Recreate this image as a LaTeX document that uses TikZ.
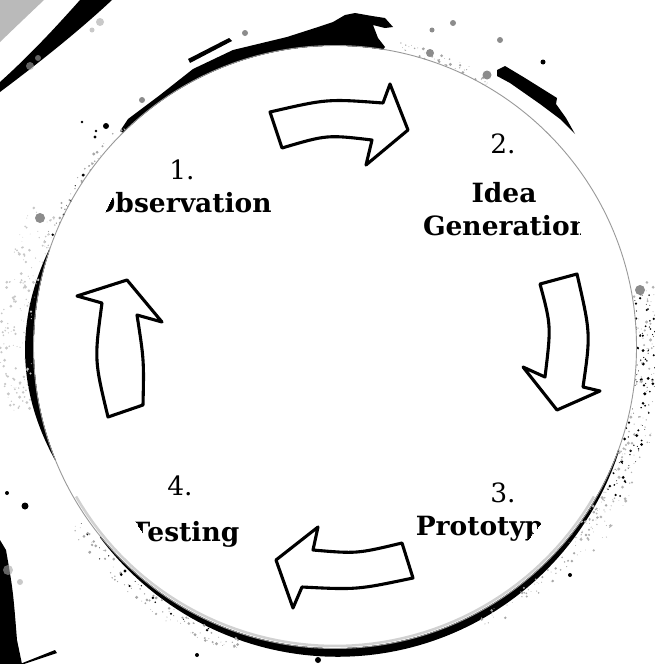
\documentclass[tikz,border=0pt]{standalone}
\usepackage{fontspec}
\setmainfont{DejaVu Serif}
\newcommand\inkspeck[6]{%
  \foreach \k in {1,...,#5}{%
    \pgfmathsetmacro\spA{#1+(#2-#1)*rnd}%
    \pgfmathsetmacro\spR{#3+(#4-#3)*rnd}%
    \pgfmathsetmacro\spS{0.4+1.3*rnd^2}%
    \fill[#6] ({335+\spR*cos(\spA)},{347+\spR*sin(\spA)}) circle[radius=\spS];}}
\begin{document}
\begin{tikzpicture}[x=1pt,y=-1pt,
  ink/.style={fill=black},
  arr/.style={draw=black,fill=white,line width=3.1pt,line join=round},
  num/.style={anchor=base,inner sep=0pt,font=\fontsize{26.5}{30}\selectfont},
  lbl/.style={anchor=base,inner sep=0pt,font=\fontsize{26.5}{30}\selectfont\bfseries}]
\useasboundingbox (0,0) rectangle (654,664);
\fill[white] (0,0) rectangle (654,664);
\pgfmathsetseed{4242}
% top-left corner
\fill[black!27] (0,0) -- (44,0) .. controls (25,18) .. (0,42) -- cycle;
\fill[ink] (0,82) .. controls (30,55) and (55,28) .. (80,0) -- (112,0)
  .. controls (80,30) and (40,62) .. (0,92) -- cycle;
\fill[black!35,opacity=0.6] (30,66) circle[radius=4] (38,58) circle[radius=3] (100,22) circle[radius=4] (92,30) circle[radius=2.5];
% bottom-left corner
\fill[ink] (0,540) -- (6,550) .. controls (13,590) .. (17,640) -- (22,664) -- (0,664) -- cycle;
\fill[black!35,opacity=0.6] (8,570) circle[radius=5] (20,582) circle[radius=3];
\fill[ink] (20,664) -- (55,650) -- (57,653) -- (24,664) -- cycle;
% ink bands round the disc
\fill[ink] plot[domain=20:141,samples=90] ({335+(302.5+7.5*sin((\x-20)/121*180))*cos(\x)},{347+(302.5+7.5*sin((\x-20)/121*180))*sin(\x)}) -- (335,347) -- cycle;
\fill[ink] plot[domain=158:199,samples=50] ({335+(302+8*sin((\x-158)/41*180))*cos(\x)},{347+(302+8*sin((\x-158)/41*180))*sin(\x)}) -- (335,347) -- cycle;
\fill[ink] (120,131) -- (128,119) -- (160,95) -- (193,69) -- (233,50) -- (287,37)
  -- (315,28) -- (333,22) -- (345,15) -- (355,13) -- (372,16) -- (385,18) -- (393,27)
  -- (385,28) -- (373,25) -- (378,38) -- (385,47) -- (330,120) -- (150,150) -- cycle;
\fill[ink] (188,59) -- (229,38) -- (232,41) -- (190,63) -- cycle;
\fill[ink] (497,70) -- (505,66) -- (525,78) -- (557,98) -- (556,104) -- (566,118)
  -- (575,134) -- (560,119) -- (540,104) -- (510,83) -- (497,76) -- cycle;
% speckles
\inkspeck{-10}{28}{302}{322}{110}{black}
\inkspeck{-12}{40}{302}{332}{160}{black!30}
\inkspeck{28}{62}{306}{320}{70}{black!35}
\inkspeck{108}{146}{306}{322}{90}{black!35}
\inkspeck{110}{146}{307}{318}{18}{black}
\inkspeck{168}{205}{304}{335}{160}{black!22}
\inkspeck{198}{226}{301}{310}{40}{black!35}
\inkspeck{200}{224}{301}{306}{10}{black}
\inkspeck{282}{300}{300}{312}{50}{black!35}
% dots and blobs
\fill[ink] (106,126) circle[radius=3] (95,137) circle[radius=1.6] (96,131) circle[radius=1.4]
  (82,122) circle[radius=1.4] (7,493) circle[radius=2] (25,506) circle[radius=3.5]
  (543,62) circle[radius=2.5] (570,575) circle[radius=2] (318,660) circle[radius=3]
  (197,655) circle[radius=2];
\fill[black!45] (40,218) circle[radius=5] (142,100) circle[radius=3] (245,33) circle[radius=3]
  (432,30) circle[radius=2.5] (453,23) circle[radius=3] (500,40) circle[radius=3]
  (430,53) circle[radius=4] (487,75) circle[radius=4.5] (640,290) circle[radius=5];
% the disc
\fill[white] (335,347) circle[radius=301];
\draw[black!40,line width=0.9pt] (335,347) circle[radius=301.5];
\draw[black!18,line width=2.5pt] plot[domain=30:150,samples=60] ({335+299*cos(\x)},{347+299*sin(\x)});
% arrows
\draw[arr] (270,112) .. controls (327.2,98.8) .. (383,103) -- (390,84) -- (408,130) -- (366,165)
  -- (372,140) .. controls (327,134.7) .. (282,148) -- cycle;
\draw[arr] (540,284) -- (577,274) .. controls (590.7,333.8) .. (583,387) -- (600,391) -- (557,410)
  -- (523,367) -- (545,377) .. controls (551.2,325.8) .. (540,284) -- cycle;
\draw[arr] (402,543) .. controls (356.8,553.8) .. (313,550) -- (318,527) -- (276,560) -- (293,608)
  -- (302,587) .. controls (356.8,589.8) .. (413,578) -- cycle;
\draw[arr] (108,417) -- (143,405) .. controls (144,360) .. (137,315) -- (162,322) -- (127,280)
  -- (77,296) -- (102,303) .. controls (94.3,360) .. (108,417) -- cycle;
% labels
\node[num] (n1) at (182,179) {1.};
\begin{scope}
  \clip (136,150) -- (400,150) -- (400,240) -- (91,240) -- cycle;
  \node[lbl] (t1) at (182,212) {Observation};
\end{scope}
\node[num] (n2) at (503,153) {2.};
\node[lbl] (t2a) at (504,202) {Idea};
\begin{scope}
  \clip (300,200) -- (576,200) -- (583,250) -- (300,250) -- cycle;
  \node[lbl] (t2b) at (506,235) {Generation};
\end{scope}
\node[num] (n3) at (503,502) {3.};
\begin{scope}
  \clip (380,500) -- (559,500) -- (512,560) -- (380,560) -- cycle;
  \node[lbl] (t3) at (488,535) {Prototype};
\end{scope}
\node[num] (n4) at (180,495) {4.};
\begin{scope}
  \clip (125,505) -- (300,505) -- (300,560) -- (159.5,560) -- cycle;
  \node[lbl] (t4) at (185,541) {Testing};
\end{scope}
\end{tikzpicture}
\end{document}
